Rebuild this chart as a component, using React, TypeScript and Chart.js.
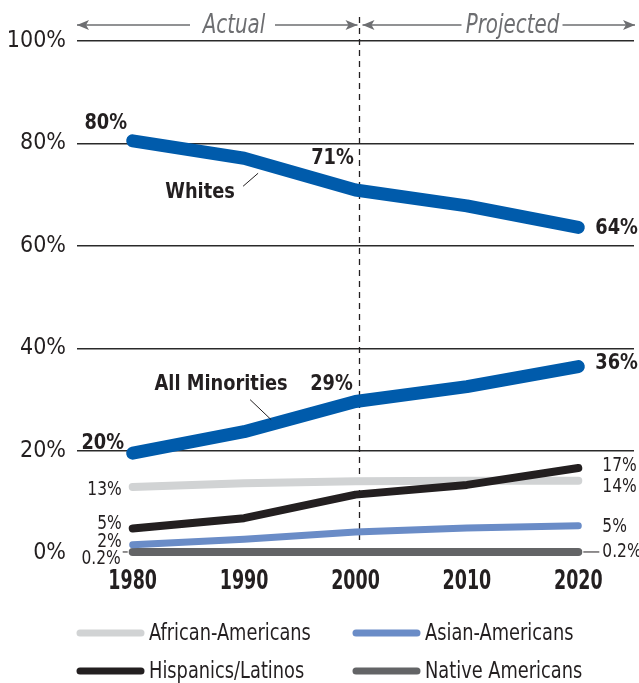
import React, { useEffect, useRef } from 'react';
import { Chart, registerables } from 'chart.js';

Chart.register(...registerables);

const years = ['1980', '1990', '2000', '2010', '2020'];
const whites = [80.5, 77.1, 70.9, 67.8, 63.6];
const minorities = [19.5, 23.7, 29.6, 32.5, 36.4];
const africanAmericans = [12.9, 13.6, 14.0, 14.1, 14.1];
const hispanics = [4.8, 6.8, 11.4, 13.3, 16.6];
const asianAmericans = [1.6, 2.7, 4.1, 4.9, 5.3];
const nativeAmericans = [0.2, 0.2, 0.2, 0.2, 0.2];
const yTickValues = [0, 20, 40, 60, 80, 100];

const FONT = "'Liberation Sans Narrow', 'DejaVu Sans Condensed', 'Liberation Sans', Arial, sans-serif";
const INK = '#231f20';
const BLUE = '#005bab';
const LIGHT_GRAY = '#d1d3d4';
const LIGHT_BLUE = '#6a8cc7';
const DARK_GRAY = '#636466';
const HEADER_GRAY = '#6d6e71';

const legendItems = [
  { label: 'African-Americans', color: LIGHT_GRAY, col: 0, row: 0 },
  { label: 'Asian-Americans', color: LIGHT_BLUE, col: 1, row: 0 },
  { label: 'Hispanics/Latinos', color: INK, col: 0, row: 1 },
  { label: 'Native Americans', color: DARK_GRAY, col: 1, row: 1 },
];

function arrowHead(ctx: CanvasRenderingContext2D, tipX: number, y: number, dir: number) {
  ctx.beginPath();
  ctx.moveTo(tipX, y);
  ctx.lineTo(tipX - dir * 12, y - 5);
  ctx.lineTo(tipX - dir * 9, y);
  ctx.lineTo(tipX - dir * 12, y + 5);
  ctx.closePath();
  ctx.fill();
}

// Draw text compressed horizontally to mimic a condensed face
function txt(ctx: CanvasRenderingContext2D, s: string, x: number, y: number, align: CanvasTextAlign, sx: number) {
  ctx.save();
  ctx.translate(x, y);
  ctx.scale(sx, 1);
  ctx.textAlign = align;
  ctx.textBaseline = 'middle';
  ctx.fillText(s, 0, 0);
  ctx.restore();
}

const annotations = {
  id: 'annotations',
  beforeDatasetsDraw(chart: any) {
    const { ctx, scales } = chart;
    const x = scales.x;
    const y = scales.y;
    const dx = x.getPixelForValue(2) + 4;
    ctx.save();
    ctx.strokeStyle = INK;
    ctx.lineWidth = 1.3;
    ctx.setLineDash([6, 5]);
    ctx.beginPath();
    ctx.moveTo(dx, y.getPixelForValue(100) - 24);
    ctx.lineTo(dx, y.getPixelForValue(2.5));
    ctx.stroke();
    ctx.restore();
  },
  afterDatasetsDraw(chart: any) {
    const { ctx, scales, chartArea } = chart;
    const x = scales.x;
    const y = scales.y;
    const px = (i: number) => x.getPixelForValue(i);
    const py = (v: number) => y.getPixelForValue(v);
    const dx = px(2) + 4;

    ctx.save();
    // X tick labels (condensed bold)
    ctx.fillStyle = INK;
    ctx.font = `bold 27px ${FONT}`;
    years.forEach((yr, i) => txt(ctx, yr, px(i), chartArea.bottom + 29, 'center', 0.72));

    // Header arrows
    const hy = py(100) - 16;
    ctx.strokeStyle = HEADER_GRAY;
    ctx.fillStyle = HEADER_GRAY;
    ctx.lineWidth = 1.4;
    const segs = [
      [chartArea.left, chartArea.left + 113, -1],
      [chartArea.left + 198, dx - 2, 1],
      [dx + 3, dx + 102, -1],
      [dx + 203, chartArea.right + 1, 1],
    ];
    segs.forEach(([a, b, dir]) => {
      ctx.beginPath();
      ctx.moveTo(a, hy);
      ctx.lineTo(b, hy);
      ctx.stroke();
      arrowHead(ctx, dir < 0 ? a : b, hy, dir);
    });
    ctx.font = `italic 26px ${FONT}`;
    txt(ctx, 'Actual', chartArea.left + 157, hy + 1, 'center', 0.85);
    txt(ctx, 'Projected', dx + 153, hy + 1, 'center', 0.85);

    // Bold labels
    ctx.fillStyle = INK;
    ctx.font = `bold 22px ${FONT}`;
    const B = 0.9;
    txt(ctx, '80%', px(0) - 27, py(whites[0]) - 18, 'center', B);
    txt(ctx, '71%', px(2) - 23, py(whites[2]) - 32, 'center', B);
    txt(ctx, '20%', px(0) - 30, py(minorities[0]) - 10, 'center', B);
    txt(ctx, '29%', px(2) - 24, py(minorities[2]) - 17, 'center', B);
    txt(ctx, 'Whites', px(1) - 44, py(whites[1]) + 34, 'center', B);
    txt(ctx, 'All Minorities', px(1) - 23, py(minorities[1]) - 47, 'center', B);
    txt(ctx, '64%', px(4) + 17, py(whites[4]) + 1, 'left', B);
    txt(ctx, '36%', px(4) + 17, py(minorities[4]) - 3, 'left', B);

    // Leader lines
    ctx.strokeStyle = INK;
    ctx.lineWidth = 1;
    ctx.beginPath();
    ctx.moveTo(px(1) - 1, py(whites[1]) + 28);
    ctx.lineTo(px(1) + 14, py(whites[1]) + 15);
    ctx.moveTo(px(1) + 6, py(minorities[1]) - 32);
    ctx.lineTo(px(1) + 27, py(minorities[1]) - 12);
    ctx.stroke();

    // Regular labels
    ctx.font = `20px ${FONT}`;
    const R = 0.86;
    txt(ctx, '13%', px(0) - 11, py(africanAmericans[0]) + 3, 'right', R);
    txt(ctx, '5%', px(0) - 11, py(hispanics[0]) - 5, 'right', R);
    txt(ctx, '2%', px(0) - 11, py(asianAmericans[0]) - 3, 'right', R);
    txt(ctx, '0.2%', px(0) - 12, py(nativeAmericans[0]) + 7, 'right', R);
    txt(ctx, '17%', px(4) + 24, py(hispanics[4]) - 2, 'left', R);
    txt(ctx, '14%', px(4) + 24, py(africanAmericans[4]) + 6, 'left', R);
    txt(ctx, '5%', px(4) + 24, py(asianAmericans[4]) + 1, 'left', R);
    txt(ctx, '0.2%', px(4) + 24, py(nativeAmericans[4]), 'left', R);
    ctx.beginPath();
    ctx.moveTo(px(0) - 10, py(nativeAmericans[0]));
    ctx.lineTo(px(0) - 5, py(nativeAmericans[0]));
    ctx.moveTo(px(4) + 5, py(nativeAmericans[4]));
    ctx.lineTo(px(4) + 21, py(nativeAmericans[4]));
    ctx.stroke();

    // Legend
    ctx.font = `23px ${FONT}`;
    ctx.lineCap = 'round';
    ctx.lineWidth = 7;
    legendItems.forEach((it) => {
      const lx = chartArea.left + 3 + it.col * 276;
      const ly = chartArea.bottom + 80 + it.row * 38;
      ctx.strokeStyle = it.color;
      ctx.beginPath();
      ctx.moveTo(lx, ly);
      ctx.lineTo(lx + 61, ly);
      ctx.stroke();
      ctx.fillStyle = INK;
      txt(ctx, it.label, lx + 69, ly + 1, 'left', 0.86);
    });
    ctx.restore();
  },
};

function line(label: string, data: number[], color: string, width: number) {
  return {
    label,
    data,
    borderColor: color,
    backgroundColor: color,
    borderWidth: width,
    borderCapStyle: 'round' as const,
    borderJoinStyle: 'round' as const,
    pointRadius: 0,
    pointHoverRadius: 0,
    tension: 0,
    fill: false,
    clip: false as const,
  };
}

export default function App() {
  const ref = useRef<HTMLCanvasElement | null>(null);
  useEffect(() => {
    if (!ref.current) return;
    const chart = new Chart(ref.current, {
      type: 'line',
      data: {
        labels: years,
        datasets: [
          line('Whites', whites, BLUE, 13),
          line('All Minorities', minorities, BLUE, 13),
          line('Hispanics/Latinos', hispanics, INK, 8),
          line('African-Americans', africanAmericans, LIGHT_GRAY, 8),
          line('Asian-Americans', asianAmericans, LIGHT_BLUE, 7),
          line('Native Americans', nativeAmericans, DARK_GRAY, 8),
        ],
      },
      options: {
        responsive: false,
        animation: false,
        layout: { padding: { left: 0, right: 5, top: 41, bottom: 70 } },
        plugins: {
          legend: { display: false },
          tooltip: { enabled: false },
        },
        scales: {
          x: {
            type: 'category',
            offset: true,
            grid: { display: false, drawTicks: false },
            border: { display: false },
            ticks: { display: false },
            afterFit: (s: any) => {
              s.height = 60;
            },
          },
          y: {
            min: 0,
            max: 100,
            afterBuildTicks: (s: any) => {
              s.ticks = yTickValues.map((v) => ({ value: v }));
            },
            grid: {
              drawTicks: false,
              color: (c: any) => (c.tick && c.tick.value === 0 ? 'rgba(0,0,0,0)' : '#2a2a2a'),
              lineWidth: 1.4,
            },
            border: { display: false },
            ticks: {
              color: INK,
              font: { family: FONT, size: 23 },
              padding: 11,
              callback: (v: any) => `${v}%`,
            },
            afterFit: (s: any) => {
              s.width = 77;
            },
          },
        },
      },
      plugins: [annotations],
    });
    return () => chart.destroy();
  }, []);
  return (
    <div style={{ position: 'absolute', left: 0, top: 0, width: 639, height: 683, background: '#fff' }}>
      <canvas ref={ref} width={639} height={683} style={{ width: 639, height: 683 }} />
    </div>
  );
}
